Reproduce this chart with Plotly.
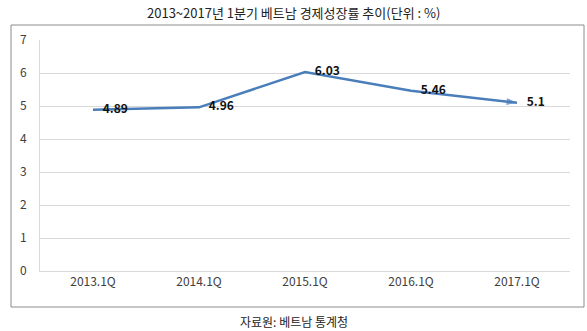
import plotly.graph_objects as go

# Vietnam Q1 GDP growth, 2013-2017 (%)
quarters = ["2013.1Q", "2014.1Q", "2015.1Q", "2016.1Q", "2017.1Q"]
growth = [4.89, 4.96, 6.03, 5.46, 5.1]
y_ticks = [0, 1, 2, 3, 4, 5, 6, 7]

title_text = "2013~2017년 1분기 베트남 경제성장률 추이(단위 : %)"
source_text = "자료원: 베트남 통계청"

FONT = "Noto Sans CJK KR, Malgun Gothic, sans-serif"
LINE_BLUE = "#4a7ebb"

labels = [f"<b>{v:g}</b>" for v in growth]
symbols = ["circle"] * (len(growth) - 1) + ["arrow"]
sizes = [0] * (len(growth) - 1) + [11]

fig = go.Figure()

# trend line with an arrowhead on the latest quarter
fig.add_trace(
    go.Scatter(
        x=quarters,
        y=growth,
        mode="lines+markers",
        line=dict(color=LINE_BLUE, width=2.5),
        marker=dict(symbol=symbols, size=sizes, color=LINE_BLUE,
                    angleref="previous", line=dict(width=0)),
        hoverinfo="skip",
    )
)

# value labels to the right of each point
fig.add_trace(
    go.Scatter(
        x=quarters,
        y=growth,
        mode="markers+text",
        marker=dict(size=14, opacity=0),
        text=labels,
        textposition="middle right",
        textfont=dict(family=FONT, size=12, color="#111111"),
        cliponaxis=False,
        hoverinfo="skip",
    )
)

W, H = 587, 331
L, R, T, B = 40, 17, 40, 60
pw, ph = W - L - R, H - T - B


def px_x(x):
    return (x - L) / pw


def px_y(y):
    return (H - B - y) / ph


fig.update_layout(
    width=W,
    height=H,
    margin=dict(l=L, r=R, t=T, b=B),
    paper_bgcolor="white",
    plot_bgcolor="white",
    showlegend=False,
    font=dict(family=FONT, size=12, color="#404040"),
    xaxis=dict(
        type="category",
        range=[-0.5, len(quarters) - 0.5],
        showgrid=False,
        showline=True,
        linecolor="#d9d9d9",
        linewidth=1,
        ticks="",
        tickfont=dict(size=12, color="#404040"),
        fixedrange=True,
    ),
    yaxis=dict(
        range=[0, 7],
        tickvals=y_ticks,
        showgrid=True,
        gridcolor="#d9d9d9",
        gridwidth=1,
        showline=True,
        linecolor="#d9d9d9",
        linewidth=1,
        zeroline=False,
        ticks="",
        ticklabelstandoff=10,
        tickfont=dict(size=12, color="#404040"),
        fixedrange=True,
    ),
    shapes=[
        dict(
            type="rect",
            xref="paper", yref="paper",
            x0=px_x(11), x1=px_x(584),
            y0=px_y(307), y1=px_y(25),
            line=dict(color="#8c8c8c", width=1),
            fillcolor="rgba(0,0,0,0)",
            layer="below",
        )
    ],
    annotations=[
        dict(
            text=title_text,
            xref="paper", yref="paper",
            x=px_x(293.5), y=px_y(12),
            xanchor="center", yanchor="middle",
            showarrow=False,
            font=dict(family=FONT, size=13, color="#222222"),
        ),
        dict(
            text=source_text,
            xref="paper", yref="paper",
            x=px_x(293.5), y=px_y(321),
            xanchor="center", yanchor="middle",
            showarrow=False,
            font=dict(family=FONT, size=12, color="#222222"),
        ),
    ],
)

fig.write_html("out.html")
